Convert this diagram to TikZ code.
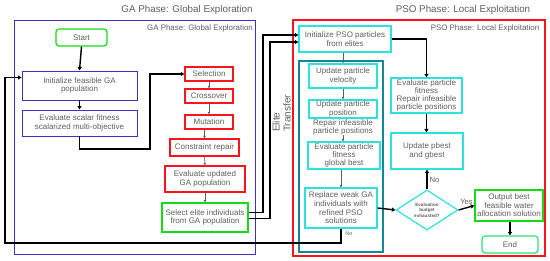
\documentclass[tikz,border=0pt]{standalone}
\usepackage{fontspec}
\setmainfont{Liberation Sans}
\usetikzlibrary{arrows.meta,shapes.geometric,calc}
\definecolor{gablue}{RGB}{60,50,200}
\definecolor{gared}{RGB}{250,20,30}
\definecolor{gagreen}{RGB}{20,220,20}
\definecolor{endgreen}{RGB}{40,230,120}
\definecolor{psocyan}{RGB}{40,228,220}
\definecolor{psoteal}{RGB}{20,135,150}
\definecolor{txtgray}{RGB}{95,95,95}
\tikzset{
  base/.style={draw, align=center, text=txtgray, font=\fontsize{8}{8.8}\selectfont, inner sep=0.5pt},
  bluebox/.style={base, draw=gablue, line width=0.9pt},
  redbox/.style={base, draw=gared, line width=1.4pt},
  greenbox/.style={base, draw=gagreen, line width=1.2pt},
  cyanbox/.style={base, draw=psocyan, line width=1.2pt},
  plain/.style={align=center, text=txtgray, font=\fontsize{8}{8.3}\selectfont, inner sep=0pt},
  blk/.style={draw=black, line width=1.4pt, -{Triangle[length=3.5pt,width=4pt]}},
  gry/.style={draw=txtgray, line width=0.6pt, -{Triangle[length=2.5pt,width=2.5pt]}},
  ttl/.style={text=txtgray, font=\fontsize{9.8}{11}\selectfont, inner sep=0pt},
  sub/.style={text=txtgray, font=\fontsize{7.9}{9}\selectfont, inner sep=0pt},
}
\begin{document}
\begin{tikzpicture}[x=1pt,y=-1pt]
\useasboundingbox (0,0) rectangle (550,261);
\fill[white] (0,0) rectangle (550,261);
% frames
\draw[gablue, line width=0.9pt] (14,20) rectangle (255,254);
\draw[gared, line width=1.1pt] (293,20) rectangle (545,256);
\draw[psoteal, line width=1.1pt] (299,61) rectangle (383,252);
\node[ttl] (gat) at (187,10) {GA Phase: Global Exploration};
\node[ttl] (psot) at (463,10) {PSO Phase: Local Exploitation};
\node[sub] (gas) at (200,28) {GA Phase: Global Exploration};
\node[sub] (psos) at (485,28) {PSO Phase: Local Exploitation};
% GA nodes
\node[greenbox, rounded corners=3pt, minimum width=51pt, minimum height=17pt] (start) at (81.5,37.5) {Start};
\node[bluebox, minimum width=115pt, minimum height=29pt] (initga) at (79.5,85.5) {Initialize feasible GA\\population};
\node[bluebox, minimum width=115pt, minimum height=26pt] (evalga) at (79.5,123) {Evaluate scalar fitness\\scalarized multi-objective};
\node[redbox, minimum width=48pt, minimum height=14pt] (sel) at (209,74) {Selection};
\node[redbox, minimum width=48pt, minimum height=14pt] (cross) at (209,96) {Crossover};
\node[redbox, minimum width=48pt, minimum height=14pt] (mut) at (209,122) {Mutation};
\node[redbox, minimum width=69pt, minimum height=17pt] (rep) at (204.5,147.5) {Constraint repair};
\node[redbox, minimum width=80pt, minimum height=26pt] (evalupd) at (205,179) {Evaluate updated\\GA population};
\node[greenbox, minimum width=86pt, minimum height=29pt] (elite) at (205,217.5) {Select elite individuals\\from GA population};
% PSO nodes
\node[cyanbox, minimum width=92pt, minimum height=26pt] (initpso) at (345,39) {Initialize PSO particles\\from elites};
\node[cyanbox, minimum width=68pt, minimum height=24pt] (vel) at (343,76) {Update particle\\velocity};
\node[cyanbox, minimum width=68pt, minimum height=18pt, font=\fontsize{8}{8.6}\selectfont] (pos) at (343,109) {Update particle\\position};
\node[plain, font=\fontsize{8}{8}\selectfont] (reptxt) at (343,127.5) {Repair infeasible\\particle positions};
\node[cyanbox, minimum width=72pt, minimum height=27pt, font=\fontsize{8}{8.4}\selectfont] (evalp) at (344,155.5) {Evaluate particle\\fitness\\global best};
\node[cyanbox, minimum width=72pt, minimum height=40pt, font=\fontsize{8}{8.6}\selectfont] (replace) at (341,208) {Replace weak GA\\individuals with\\refined PSO\\solutions};
\node[cyanbox, minimum width=71pt, minimum height=35pt, font=\fontsize{8}{7.9}\selectfont] (evalr) at (426.5,95.5) {Evaluate particle\\fitness\\Repair infeasible\\particle positions};
\node[cyanbox, minimum width=72pt, minimum height=36pt] (pbest) at (427,151) {Update pbest\\and gbest};
\node[diamond, draw=psocyan, line width=1.2pt, minimum width=62pt, minimum height=40pt, inner sep=0pt, align=center, text=txtgray, font=\fontsize{4.6}{5.6}\selectfont\bfseries] (dec) at (427,210) {Evaluation\\budget\\exhausted?};
\node[greenbox, minimum width=68pt, minimum height=31pt, font=\fontsize{8}{8.5}\selectfont] (out) at (509,205.5) {Output best\\feasible water\\allocation solution};
\node[base, draw=endgreen, line width=1.2pt, rounded corners=3pt, minimum width=56pt, minimum height=17pt] (end) at (510,244.5) {End};
% Elite transfer label
\node[ttl, rotate=90, align=left, font=\fontsize{10}{11}\selectfont] (etl) at (281.5,113.5) {Elite\\Transfer};
% helper coordinates
\coordinate (k1) at (150,149);
\coordinate (t1) at (263,35);
\coordinate (t2) at (270,42);
\coordinate (l1) at (5,243);
% GA connectors
\draw[blk] (start.south) -- (initga.north);
\draw[blk, line width=1pt] (initga.south) -- (evalga.north);
\draw[blk] (evalga.south) |- (k1) |- (sel.west);
\draw[gry] (sel.south) -- (cross.north);
\draw[gry] (cross.south) -- (mut.north);
\draw[gry] (mut.south -| rep.north) -- (rep.north);
\draw[gry] (rep.south) -- (evalupd.north);
\draw[gry] (evalupd.south) -- (elite.north);
% elite transfer
\draw[blk] ([yshift=5pt]elite.east) -| (t1) -- (t1 -| initpso.west);
\draw[blk] ([yshift=-1pt]elite.east) -| (t2) -- (t2 -| initpso.west);
% PSO connectors
\draw[gry] (initpso.south -| vel.north) -- (vel.north);
\draw[gry] (vel.south) -- (pos.north);
\draw[gry] (reptxt.south) -- (reptxt.south |- evalp.north);
\draw[gry] (evalp.south -| replace.north) -- (replace.north);
\draw[blk] (initpso.east) -| (evalr.north);
\draw[blk] (evalr.south) -- (evalr.south |- pbest.north);
\draw[blk] (replace.east) -- (dec.west);
\draw[blk] (dec.north) -- node[right, plain, xshift=2pt, font=\fontsize{7.6}{8}\selectfont] (nolbl) {No} (dec.north |- pbest.south);
\draw[blk] (dec.east) -- node[above, plain, yshift=2pt, font=\fontsize{7.6}{8}\selectfont] (yeslbl) {Yes} (out.west);
\draw[blk] (out.south -| end.north) -- (end.north);
% loop back
\draw[blk] (replace.south) |- (l1) |- ([yshift=8pt]initga.west);
\node[plain, font=\fontsize{5.5}{6}\selectfont] (no2) at (349,234) {No};
\end{tikzpicture}
\end{document}
